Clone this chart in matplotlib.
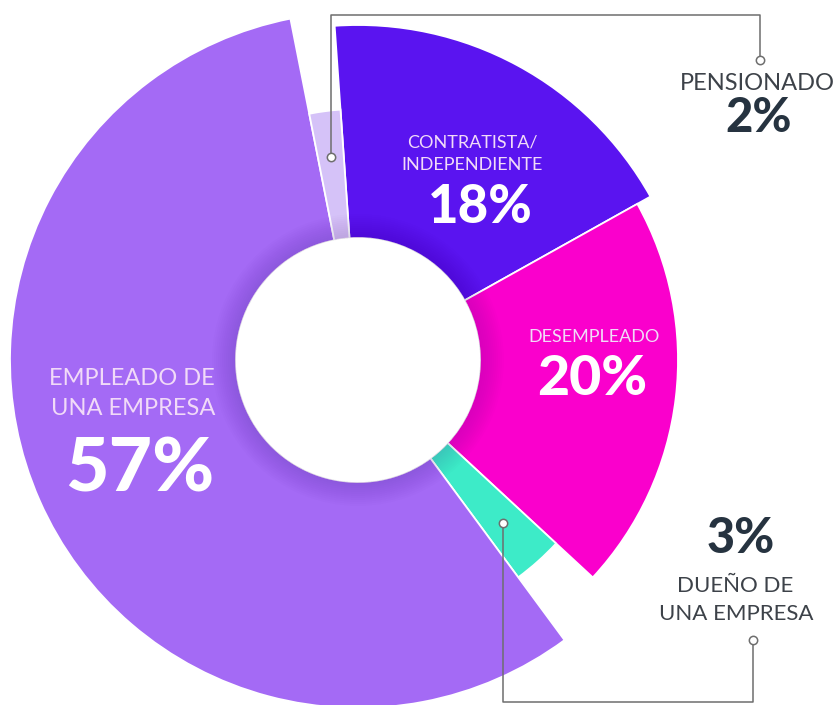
import matplotlib
matplotlib.use("Agg")
import matplotlib.pyplot as plt
from matplotlib.patches import Wedge, Circle
import numpy as np

# ---- data ----
categories = ["CONTRATISTA/\nINDEPENDIENTE", "DESEMPLEADO", "DUEÑO DE\nUNA EMPRESA",
              "EMPLEADO DE\nUNA EMPRESA", "PENSIONADO"]
values = [18, 20, 3, 57, 2]
pct_labels = ["18%", "20%", "3%", "57%", "2%"]

# ---- style ----
colors = ["#5A14F0", "#FA00CC", "#3DEBC8", "#A46AF5", "#D5C2F8"]
outer_r = [335, 320, 270, 348, 251]
inner_r = 122
start_angle = 94

W, H = 837, 705
fig = plt.figure(figsize=(W / 100, H / 100), dpi=100)
ax = fig.add_axes([0, 0, 1, 1])
ax.set_xlim(0, W)
ax.set_ylim(0, H)
ax.set_aspect('equal')
ax.axis('off')

plt.rcParams['font.family'] = ['Lato', 'DejaVu Sans']

cx, cy = 358, H - 360
total = float(sum(values))
spans = []
a = start_angle
for v, c, r in zip(values, colors, outer_r):
    span = 360.0 * v / total
    ax.add_patch(Wedge((cx, cy), r, a - span, a, width=r - inner_r,
                       facecolor=c, edgecolor='white', lw=1.3, zorder=2))
    spans.append((a - span, a))
    a -= span

# soft shadow around the hole
n = 12
for i in range(n):
    w = (n - i) * 2.0
    ax.add_patch(Wedge((cx, cy), inner_r + w, 0, 360, width=w,
                       facecolor='#3a0a70', alpha=0.010, lw=0, zorder=3))
ax.add_patch(Circle((cx, cy), inner_r, facecolor='white', lw=0, zorder=4))


def txt(x, y, s, **kw):
    ax.text(x, H - y, s, ha='center', va='baseline', zorder=6, **kw)


lab_in = '#F1DAF8'
dark = '#263340'
grey = '#3d4249'

# Contratista
txt(472, 148, "CONTRATISTA/", color=lab_in, fontsize=13, fontweight='normal')
txt(472, 170, "INDEPENDIENTE", color=lab_in, fontsize=13, fontweight='normal')
txt(480, 223, pct_labels[0], color='white', fontsize=38, fontweight='black')
# Desempleado
txt(594, 342, categories[1], color=lab_in, fontsize=13, fontweight='normal')
txt(592, 395, pct_labels[1], color='white', fontsize=40, fontweight='black')
# Empleado
txt(132, 385, "EMPLEADO DE", color=lab_in, fontsize=17, fontweight='normal')
txt(133, 415, "UNA EMPRESA", color=lab_in, fontsize=17, fontweight='normal')
txt(140, 492, pct_labels[3], color='white', fontsize=54, fontweight='black')
# Pensionado
txt(757, 90, categories[4], color=grey, fontsize=17, fontweight='normal')
txt(759, 132, pct_labels[4], color=dark, fontsize=34, fontweight='black')
# Dueño
txt(741, 553, pct_labels[2], color=dark, fontsize=35, fontweight='black')
txt(735, 592, "DUEÑO DE", color=grey, fontsize=16, fontweight='normal')
txt(736, 620, "UNA EMPRESA", color=grey, fontsize=16, fontweight='normal')

# leader lines
lc = '#6e6e6e'


def wedge_point(idx, r):
    t = np.deg2rad(np.mean(spans[idx]))
    return cx + r * np.cos(t), cy + r * np.sin(t)


px, py = wedge_point(4, 205)
ax.plot([px, px, 760, 760], [py, H - 15, H - 15, H - 60], color=lc, lw=1.1, zorder=7)
ax.plot([px, 760], [py, H - 60], 'o', ms=6, mfc='white', mec=lc, mew=1.1, zorder=8)

dx, dy = wedge_point(2, 218)
ax.plot([dx, dx, 753, 753], [dy, H - 702, H - 702, H - 640], color=lc, lw=1.1, zorder=7)
ax.plot([dx, 753], [dy, H - 640], 'o', ms=6, mfc='white', mec=lc, mew=1.1, zorder=8)

fig.savefig("out.png", dpi=100)
